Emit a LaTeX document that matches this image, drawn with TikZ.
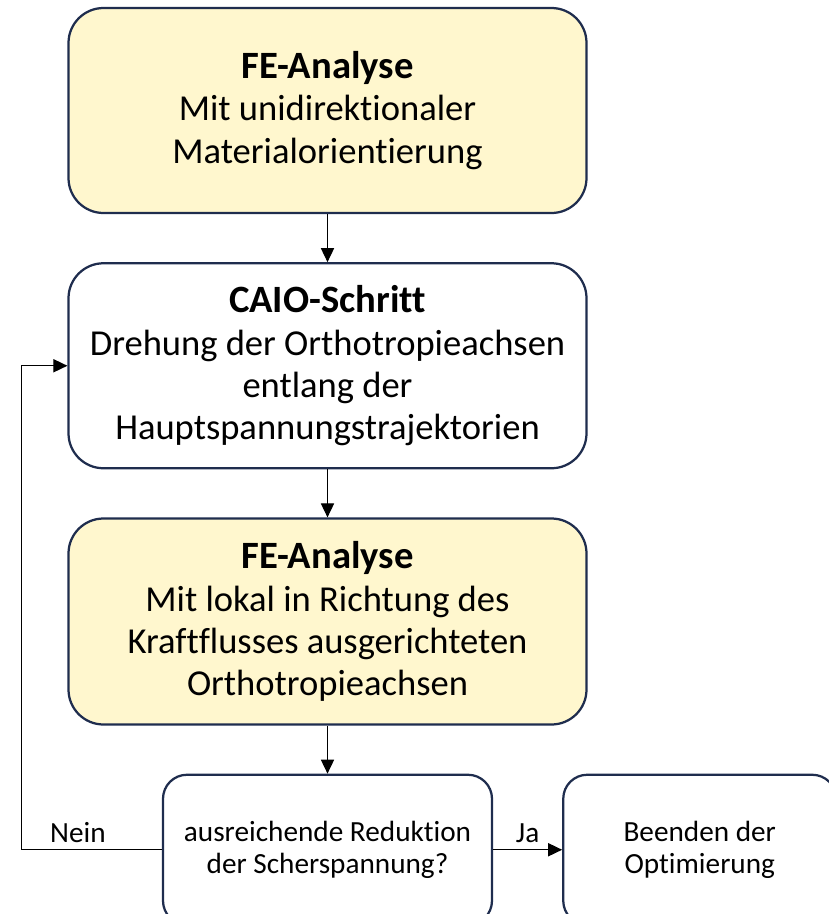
\documentclass[tikz,border=0pt]{standalone}
\usepackage{fontspec}
\setmainfont{Carlito}[Ligatures=NoCommon]
\usepackage{xcolor}
\usetikzlibrary{arrows.meta,positioning}
\definecolor{boxline}{HTML}{1F2D4E}
\definecolor{boxfill}{HTML}{FFF7CE}

\begin{document}
\begin{tikzpicture}[
    node distance=1.2cm,
    box/.style={draw=boxline,line width=1.6pt,rounded corners=0.875cm,align=center,
      minimum width=12.95cm,minimum height=5.125cm,font=\fontsize{26}{30}\selectfont},
    fillbox/.style={box,fill=boxfill},
    smallbox/.style={draw=boxline,line width=1.6pt,rounded corners=0.6cm,align=center,
      minimum height=3.75cm,font=\fontsize{20.8}{23}\selectfont},
    arr/.style={-{Triangle[length=0.35cm,width=0.33cm]},line width=0.8pt}
  ]
  \useasboundingbox (0,0) rectangle (20.725,-22.85);
  \node[fillbox] (fe1) at (8.1875,-2.7625)
    {{\fontsize{27.5}{30}\selectfont\bfseries FE-Analyse}\\Mit unidirektionaler\\Materialorientierung};
  \node[box,below=of fe1] (caio)
    {{\fontsize{27.5}{30}\selectfont\bfseries CAIO-Schritt}\\Drehung der Orthotropieachsen\\entlang der\\Hauptspannungstrajektorien};
  \node[fillbox,below=of caio,minimum height=5.15cm] (fe2)
    {{\fontsize{27.5}{30}\selectfont\bfseries FE-Analyse}\\Mit lokal in Richtung des\\Kraftflusses ausgerichteten\\Orthotropieachsen};
  \node[smallbox,below=of fe2,minimum width=8.225cm] (check)
    {ausreichende Reduktion\\der Scherspannung?};
  \node[smallbox,right=1.725cm of check,minimum width=6.825cm] (stop)
    {Beenden der\\Optimierung};

  \draw[arr] (fe1) -- (caio);
  \draw[arr] (caio) -- (fe2);
  \draw[arr] (fe2) -- (check);
  \draw[arr] (check) -- (stop) node[midway,above=1pt,font=\fontsize{20.8}{23}\selectfont] {Ja};
  \draw[arr] (check.west) -- ++(-3.5,0) node[pos=0.6,above=1pt,font=\fontsize{20.8}{23}\selectfont] {Nein}
    |- (caio.west);
\end{tikzpicture}
\end{document}
